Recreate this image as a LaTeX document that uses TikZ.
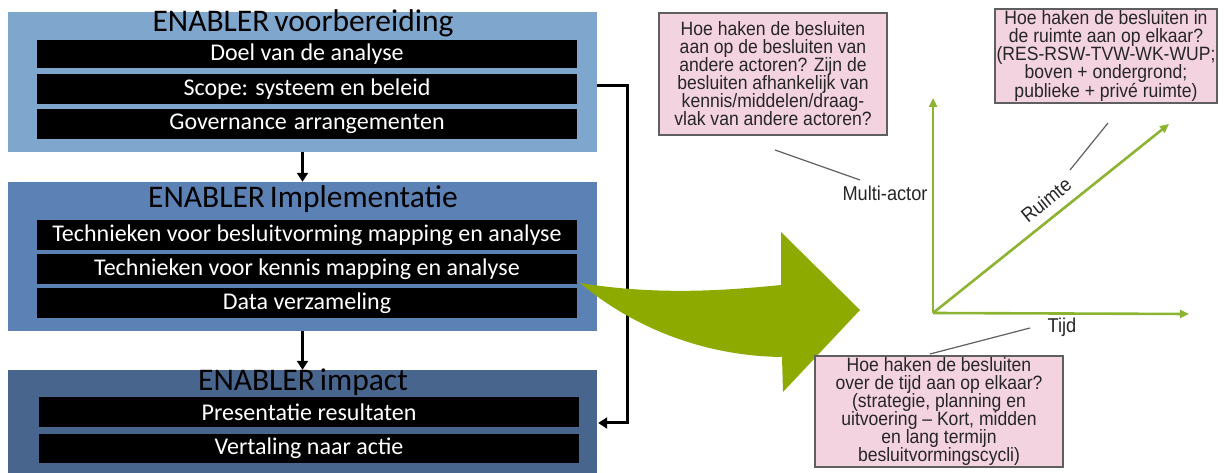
\documentclass[tikz,border=0pt]{standalone}
\usepackage{fontspec}
\setmainfont{Carlito}
\newfontfamily\notefont{Liberation Sans}[FakeStretch=0.91]
\usetikzlibrary{arrows.meta,calc}
\definecolor{blueA}{RGB}{127,166,204}
\definecolor{blueB}{RGB}{92,130,181}
\definecolor{blueC}{RGB}{72,101,142}
\definecolor{olive}{RGB}{141,170,0}
\definecolor{axisgreen}{RGB}{140,180,50}
\definecolor{notepink}{RGB}{244,211,224}
\definecolor{leadgray}{RGB}{95,95,95}
\tikzset{
  phase/.style={draw=none, minimum width=589bp, inner sep=0pt},
  phasetitle/.style={font=\fontsize{31.5bp}{32bp}\selectfont, text=black, inner sep=0pt},
  bar/.style={fill=black, text=white, minimum width=540bp, inner sep=0pt,
    font=\fontsize{24bp}{25bp}\selectfont},
  flow/.style={line width=3bp, -{Triangle[length=9bp,width=11bp]}},
  note/.style={draw=leadgray, line width=1.3bp, fill=notepink, align=center, inner sep=0pt,
    font=\notefont\fontsize{19.3bp}{18bp}\selectfont, text=black!85},
  axis/.style={draw=axisgreen, line width=2.6bp, -{Triangle[length=9bp,width=8bp]}},
  lead/.style={draw=leadgray, line width=1.2bp},
  axlabel/.style={font=\notefont\fontsize{20bp}{20bp}\selectfont, text=black!85, inner sep=0pt}
}
\begin{document}
\begin{tikzpicture}[x=1bp, y=-1bp]
\useasboundingbox (0,0) rectangle (1224,473);

% three phase panels
\node[phase, fill=blueA, minimum height=140bp] (b1) at (302.5,82) {};
\node[phase, fill=blueB, minimum height=149bp] (b2) at (302.5,256.5) {};
\node[phase, fill=blueC, minimum height=103bp] (b3) at (302.5,421.5) {};

\node[phasetitle] (t1) at (303,23) {ENABLER\hspace{5bp}voorbereiding};
\node[bar, minimum height=28bp] (p1) at (307,54) {Doel van de analyse};
\node[bar, minimum height=30bp] (p2) at (307,89) {Scope: systeem en beleid};
\node[bar, minimum height=30bp] (p3) at (307,124) {Governance\hspace{7bp}arrangementen};

\node[phasetitle] (t2) at (303,199) {ENABLER\hspace{5bp}Implementatie};
\node[bar, minimum height=30bp] (q1) at (307,235) {Technieken voor besluitvorming mapping en analyse};
\node[bar, minimum height=30bp] (q2) at (307,269) {Technieken voor kennis mapping en analyse};
\node[bar, minimum height=30bp] (q3) at (307,303) {Data verzameling};

\node[phasetitle] (t3) at (303,382) {ENABLER\hspace{5bp}impact};
\node[bar, minimum height=30bp] (r1) at (309,412) {Presentatie resultaten};
\node[bar, minimum height=29bp] (r2) at (309,448.5) {Vertaling naar actie};

% flow between the phases
\draw[flow] (b1.south) -- (b2.north);
\draw[flow] (b2.south) -- (b3.north);
\coordinate (kink) at ($(b1.east)+(30,4)$);
\draw[flow] ($(b1.east)+(0,4)$) -- (kink) |- ($(b3.east)+(1,1.5)$);

% large curved arrow towards the three dimensions
\fill[olive] (580,283) .. controls (660,296) and (730,290) .. (781,285)
  -- (781,232) -- (860,310) -- (783,392) -- (782,357)
  .. controls (700,356) and (630,325) .. (580,283) -- cycle;

% three dimensions
\coordinate (o) at (933,313);
\coordinate (ytop) at (933,98);
\coordinate (xend) at (1189,314);
\coordinate (dend) at (1169,124);
\draw[axis] (o) -- (ytop);
\draw[axis] (o) -- (xend);
\draw[axis] (o) -- (dend);

\node[axlabel] (lm) at (885,193) {Multi-actor};
\node[axlabel, rotate=38.8] (lr) at (1046,200) {Ruimte};
\node[axlabel] (lt) at (1062,327) {Tijd};

% question boxes
\node[note, minimum width=228bp, minimum height=122bp] (na) at (773,74)
  {Hoe haken de besluiten\\aan op de besluiten van\\andere actoren? Zijn de\\besluiten afhankelijk van\\kennis/middelen/draag-\\vlak van andere actoren?};
\node[note, minimum width=222bp, minimum height=94bp] (nb) at (1106,56)
  {Hoe haken de besluiten in\\de ruimte aan op elkaar?\\(RES-RSW-TVW-WK-WUP;\\boven + ondergrond;\\publieke + privé ruimte)};
\node[note, minimum width=248bp, minimum height=111bp] (nc) at (939,411.5)
  {Hoe haken de besluiten\\over de tijd aan op elkaar?\\(strategie, planning en\\uitvoering – Kort, midden\\en lang termijn\\besluitvormingscycli)};

% leader lines
\coordinate (la1) at (775,150);
\coordinate (la2) at (860,180);
\draw[lead] (la1) -- (la2);
\coordinate (lb1) at (1108,123);
\coordinate (lb2) at (1070,170);
\draw[lead] (lb1) -- (lb2);
\coordinate (lc1) at (1030,328);
\coordinate (lc2) at (930,354);
\draw[lead] (lc1) -- (lc2);
\end{tikzpicture}
\end{document}
